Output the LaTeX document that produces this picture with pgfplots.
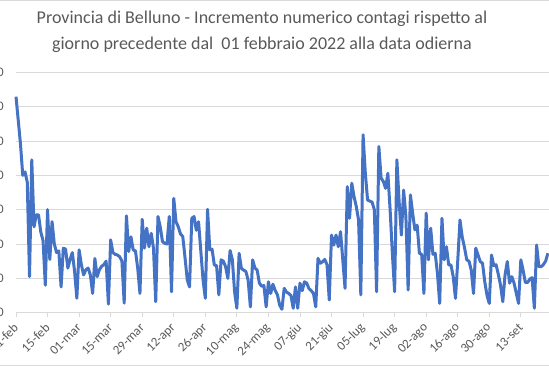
\documentclass[border=0pt]{standalone}
\usepackage{fontspec}
\setmainfont{Carlito}
\usepackage{pgfplots}
\usepackage{pgfplotstable}
\pgfplotsset{compat=1.18}
\definecolor{linecol}{HTML}{4472C4}
\definecolor{txt}{HTML}{595959}
\definecolor{gridc}{HTML}{D9D9D9}
\pgfplotstableread{
d v
0 629
1 560
2 490
3 400
4 410
5 380
6 105
7 445
8 250
9 285
10 285
11 235
12 210
13 80
14 300
15 155
16 265
17 200
18 175
19 180
20 75
21 188
22 185
23 130
24 155
25 175
26 120
27 42
28 183
29 140
30 110
31 125
32 130
33 110
34 56
35 158
36 105
37 125
38 135
39 140
40 150
41 25
42 212
43 175
44 170
45 168
46 163
47 150
48 28
49 282
50 178
51 221
52 183
53 180
54 130
55 56
56 272
57 188
58 246
59 192
60 231
61 188
62 32
63 280
64 250
65 207
66 202
67 200
68 280
69 61
70 333
71 265
72 250
73 229
74 222
75 160
76 95
77 75
78 275
79 280
80 240
81 265
82 180
83 95
84 42
85 301
86 183
87 185
88 139
89 137
90 52
91 154
92 150
93 134
94 100
95 181
96 154
97 60
98 13
99 173
100 129
101 124
102 120
103 95
104 17
105 154
106 130
107 124
108 86
109 77
110 79
111 17
112 90
113 56
114 83
115 65
116 52
117 22
118 10
119 71
120 60
121 56
122 50
123 13
124 75
125 13
126 86
127 64
128 90
129 86
130 70
131 64
132 56
133 17
134 158
135 144
136 148
137 155
138 140
139 37
140 226
141 197
142 226
143 192
144 236
145 154
146 71
147 367
148 275
149 377
150 338
151 309
152 270
153 52
154 518
155 406
156 328
157 325
158 322
159 300
160 61
161 484
162 392
163 382
164 362
165 406
166 300
167 173
168 61
169 445
170 323
171 226
172 357
173 280
174 66
175 343
176 290
177 241
178 255
179 173
180 170
181 56
182 290
183 154
184 246
185 170
186 173
187 115
188 27
189 275
190 154
191 192
192 139
193 139
194 105
195 42
196 150
197 270
198 220
199 190
200 154
201 150
202 124
203 56
204 188
205 168
206 149
207 144
208 90
209 50
210 27
211 168
212 137
213 140
214 112
215 80
216 32
217 110
218 149
219 86
220 105
221 86
222 56
223 27
224 154
225 124
226 88
227 88
228 98
229 102
230 13
231 197
232 134
233 134
234 140
235 150
236 173
}\datatable
\begin{document}
\begin{tikzpicture}[x=1pt,y=1pt]
\clip (0,0) rectangle (549,366);
\draw[gridc, line width=0.8pt] (0,365.4) -- (549,365.4);
\draw[gridc, line width=0.8pt] (0,0.6) -- (549,0.6);
\node[anchor=base, text=txt, font=\fontsize{18}{21}\selectfont] at (262,342.5) {Provincia di Belluno - Incremento numerico contagi rispetto al};
\node[anchor=base, text=txt, font=\fontsize{18}{21}\selectfont] at (262,316) {giorno precedente dal\ \ 01 febbraio 2022 alla data odierna};
\begin{axis}[
  at={(16pt,53.3pt)}, anchor=south west,
  scale only axis, width=533pt, height=240.4pt,
  xmin=0, xmax=236.5, ymin=0, ymax=700,
  ytick={0,100,...,700},
  xtick={0,14,...,224},
  xticklabels={01-feb,15-feb,01-mar,15-mar,29-mar,12-apr,26-apr,10-mag,24-mag,07-giu,21-giu,05-lug,19-lug,02-ago,16-ago,30-ago,13-set},
  axis x line*=bottom, axis y line*=left,
  x axis line style={gridc, line width=0.8pt, -},
  y axis line style={draw=none},
  ymajorgrids, grid style={gridc, line width=0.8pt},
  tick align=outside, major tick length=4pt,
  xtick style={gridc, line width=0.8pt},
  ytick style={draw=none},
  /pgf/number format/assume math mode=true,
  tick label style={text=txt, font=\fontsize{13}{15}\selectfont},
  yticklabel style={anchor=east, inner sep=0pt, xshift=-8pt},
  xticklabel style={yshift=-9pt, rotate=45, anchor=east, inner sep=0pt},
  clip=false,
]
\addplot[linecol, line width=3pt, line join=round, mark=none] table[x=d, y=v] {\datatable};
\end{axis}
\end{tikzpicture}
\end{document}
